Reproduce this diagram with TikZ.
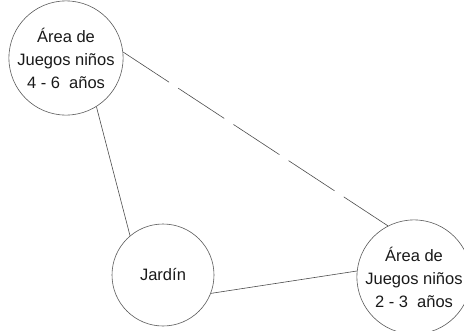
\documentclass[tikz,border=0pt]{standalone}
\usepackage{fontspec}
\setmainfont{Liberation Sans}
\begin{document}
\begin{tikzpicture}[x=1pt,y=-1pt,
  zone/.style={circle,draw=black!65,line width=0.6pt,inner sep=0pt,align=center,
    font=\fontsize{16.5}{23}\selectfont,text=black!90},
  link/.style={draw=black!70,line width=0.6pt}]
\useasboundingbox (0,0) rectangle (464,330);
\node[zone,minimum size=106pt] (a) at (66,58) {Área de\\Juegos niños\\4 - 6 \ años};
\node[zone,minimum size=102pt] (j) at (163,275) {Jardín};
\node[zone,minimum size=100pt] (b) at (414,277) {Área de\\Juegos niños\\2 - 3 \ años};
\draw[link] (a.-58) -- (j.130);
\draw[link,dash pattern=on 55pt off 11pt] (a.6) -- (b.117);
\draw[link] (j.-21) -- (b.174);
\end{tikzpicture}
\end{document}
